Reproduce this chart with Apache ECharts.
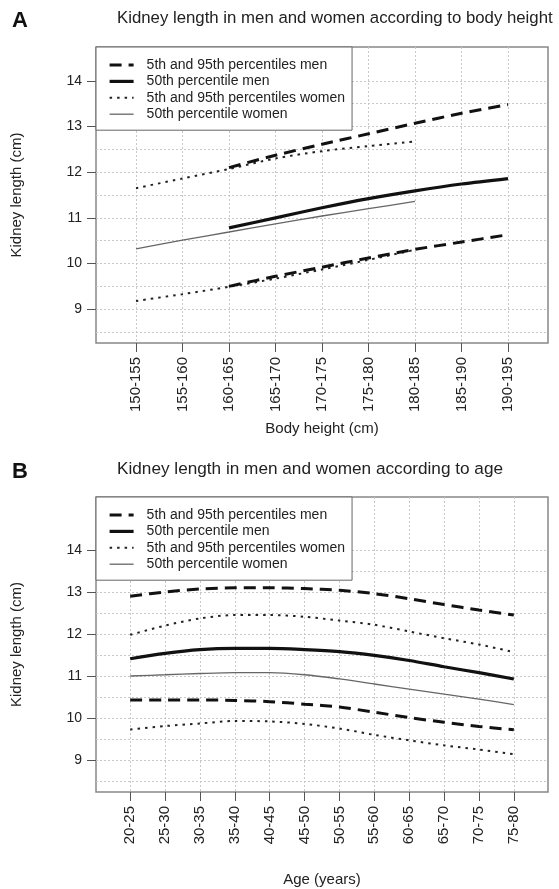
<!DOCTYPE html>
<html>
<head>
<meta charset="utf-8">
<script src="https://cdn.jsdelivr.net/npm/echarts@6/dist/echarts.min.js"></script>
<style>
html, body { margin: 0; padding: 0; background: #fff; }
#chart { width: 559px; height: 889px; }
</style>
</head>
<body>
<div id="chart"></div>
<script>
// panel A: body height
var heightCats = ['150-155', '155-160', '160-165', '165-170', '170-175', '175-180', '180-185', '185-190', '190-195'];
var hMen95 = [null, null, 12.1, 12.37, 12.61, 12.84, 13.07, 13.29, 13.48];
var hMen50 = [null, null, 10.78, 11.0, 11.22, 11.42, 11.59, 11.74, 11.86];
var hMen5 = [null, null, 9.5, 9.72, 9.92, 10.12, 10.31, 10.47, 10.63];
var hWomen95 = [11.65, 11.86, 12.07, 12.3, 12.46, 12.57, 12.67, null, null];
var hWomen50 = [10.32, 10.51, 10.69, 10.87, 11.04, 11.2, 11.36, null, null];
var hWomen5 = [9.18, 9.33, 9.49, 9.67, 9.87, 10.08, 10.3, null, null];

// panel B: age
var ageCats = ['20-25', '25-30', '30-35', '35-40', '40-45', '45-50', '50-55', '55-60', '60-65', '65-70', '70-75', '75-80'];
var aMen95 = [12.9, 13.0, 13.07, 13.1, 13.1, 13.08, 13.04, 12.96, 12.84, 12.7, 12.57, 12.45];
var aMen50 = [11.41, 11.54, 11.63, 11.66, 11.66, 11.63, 11.58, 11.49, 11.37, 11.22, 11.08, 10.93];
var aMen5 = [10.43, 10.43, 10.43, 10.42, 10.39, 10.33, 10.26, 10.14, 10.01, 9.9, 9.8, 9.72];
var aWomen95 = [11.98, 12.2, 12.37, 12.45, 12.45, 12.41, 12.32, 12.22, 12.06, 11.9, 11.75, 11.57];
var aWomen50 = [11.0, 11.03, 11.06, 11.08, 11.08, 11.03, 10.93, 10.81, 10.69, 10.57, 10.45, 10.32];
var aWomen5 = [9.73, 9.81, 9.87, 9.93, 9.92, 9.86, 9.75, 9.6, 9.47, 9.35, 9.25, 9.14];

var yLabelTicks = [9, 10, 11, 12, 13, 14];
var yGridTicks = [8.5, 9, 9.5, 10, 10.5, 11, 11.5, 12, 12.5, 13, 13.5, 14];

var names = ['5th and 95th percentiles men', '50th percentile men', '5th and 95th percentiles women', '50th percentile women'];

var font = 'Liberation Sans, Arial, sans-serif';
var dotted = { color: '#c8c8c8', width: 1, type: [2, 2] };

function pairs(vals) {
	return vals.map(function(v, i) { return [i, v]; });
}

function idxList(n) {
	var a = [];
	for (var i = 0; i < n; i++) a.push(i);
	return a;
}

function makeX(gi, cats, pad, title, gap) {
	var n = cats.length;
	return {
		type : 'value',
		gridIndex : gi,
		min : -pad,
		max : n - 1 + pad,
		name : title,
		nameLocation : 'middle',
		nameGap : gap,
		nameTextStyle : { fontSize : 15, fontFamily : font, color : '#222' },
		axisLine : { show : false, onZero : false },
		axisTick : { show : true, length : 9, customValues : idxList(n), lineStyle : { color : '#555' } },
		axisLabel : {
			customValues : idxList(n),
			rotate : 90,
			margin : 14,
			fontSize : 15,
			fontFamily : font,
			color : '#222',
			formatter : function(v) { return cats[Math.round(v)]; }
		},
		splitLine : { show : true, lineStyle : dotted }
	};
}

function makeY(gi, min, max, withLabels) {
	var ax = {
		type : 'value',
		gridIndex : gi,
		min : min,
		max : max,
		axisLine : { show : false, onZero : false }
	};
	if (withLabels) {
		ax.axisTick = { show : true, length : 9, customValues : yLabelTicks, lineStyle : { color : '#555' } };
		ax.axisLabel = { customValues : yLabelTicks, margin : 14, fontSize : 14, fontFamily : font, color : '#222' };
		ax.splitLine = { show : false };
		ax.name = 'Kidney length (cm)';
		ax.nameLocation = 'middle';
		ax.nameGap = 72;
		ax.nameTextStyle = { fontSize : 15, fontFamily : font, color : '#222' };
	} else {
		ax.axisTick = { show : false, customValues : yGridTicks };
		ax.axisLabel = { show : false, customValues : yGridTicks };
		ax.splitLine = { show : true, lineStyle : dotted };
	}
	return ax;
}

function makeSeries(xi, yi, m95, m50, m5, w95, w50, w5) {
	var base = function(name, vals, ls) {
		return {
			name : name,
			type : 'line',
			xAxisIndex : xi,
			yAxisIndex : yi,
			data : pairs(vals),
			symbol : 'none',
			smooth : 0.3,
			connectNulls : false,
			lineStyle : ls,
			itemStyle : { color : ls.color, opacity : 0 },
			z : 3
		};
	};
	var menDash = { color : '#111', width : 3, type : [12, 7] };
	var menSolid = { color : '#111', width : 3.2 };
	var womenDot = { color : '#222', width : 2, type : [2.5, 5] };
	var womenSolid = { color : '#666', width : 1.3 };
	return [
		base(names[2], w95, womenDot),
		base(names[2], w5, womenDot),
		base(names[3], w50, womenSolid),
		base(names[0], m95, menDash),
		base(names[0], m5, menDash),
		base(names[1], m50, menSolid)
	];
}

function makeLegend(top) {
	return {
		data : names,
		orient : 'vertical',
		left : 96,
		top : top,
		backgroundColor : '#fff',
		borderColor : '#666',
		borderWidth : 1,
		borderRadius : 0,
		padding : [11, 7, 9, 12],
		itemWidth : 24,
		itemHeight : 14,
		itemGap : 2.4,
		selectedMode : false,
		itemStyle : { opacity : 0 },
		lineStyle : { width : 'inherit', type : 'inherit' },
		textStyle : { fontSize : 14, fontFamily : font, color : '#222', lineHeight : 14, padding : [0, 0, 0, 8] },
		z : 10
	};
}

var Chart = echarts.init(document.getElementById('chart'), null, { renderer : 'canvas' });

var option = {
	backgroundColor : '#fff',
	animation : false,
	title : [
		{ text : 'A', left : 7, top : 5, textStyle : { fontSize : 22, fontWeight : 'bold', fontFamily : font, color : '#111' } },
		{ text : 'Kidney length in men and women according to body height', left : 112, top : 5, textStyle : { fontSize : 16.8, fontWeight : 'normal', fontFamily : font, color : '#222' } },
		{ text : 'B', left : 7, top : 456, textStyle : { fontSize : 22, fontWeight : 'bold', fontFamily : font, color : '#111' } },
		{ text : 'Kidney length in men and women according to age', left : 112, top : 456, textStyle : { fontSize : 17.2, fontWeight : 'normal', fontFamily : font, color : '#222' } }
	],
	legend : [ makeLegend(47), makeLegend(497) ],
	grid : [
		{ left : 96, top : 47, width : 452, height : 296, show : true, borderColor : '#888', borderWidth : 1.5, backgroundColor : 'transparent' },
		{ left : 96, top : 497, width : 452, height : 295, show : true, borderColor : '#888', borderWidth : 1.5, backgroundColor : 'transparent' }
	],
	xAxis : [ makeX(0, heightCats, 0.86, 'Body height (cm)', 78), makeX(1, ageCats, 0.98, 'Age (years)', 80) ],
	yAxis : [
		makeY(0, 8.26, 14.74, true),
		makeY(0, 8.26, 14.74, false),
		makeY(1, 8.24, 15.26, true),
		makeY(1, 8.24, 15.26, false)
	],
	series : [].concat(
		makeSeries(0, 0, hMen95, hMen50, hMen5, hWomen95, hWomen50, hWomen5),
		makeSeries(1, 2, aMen95, aMen50, aMen5, aWomen95, aWomen50, aWomen5)
	)
};

Chart.setOption(option);
window.onresize = Chart.resize;
</script>
</body>
</html>
